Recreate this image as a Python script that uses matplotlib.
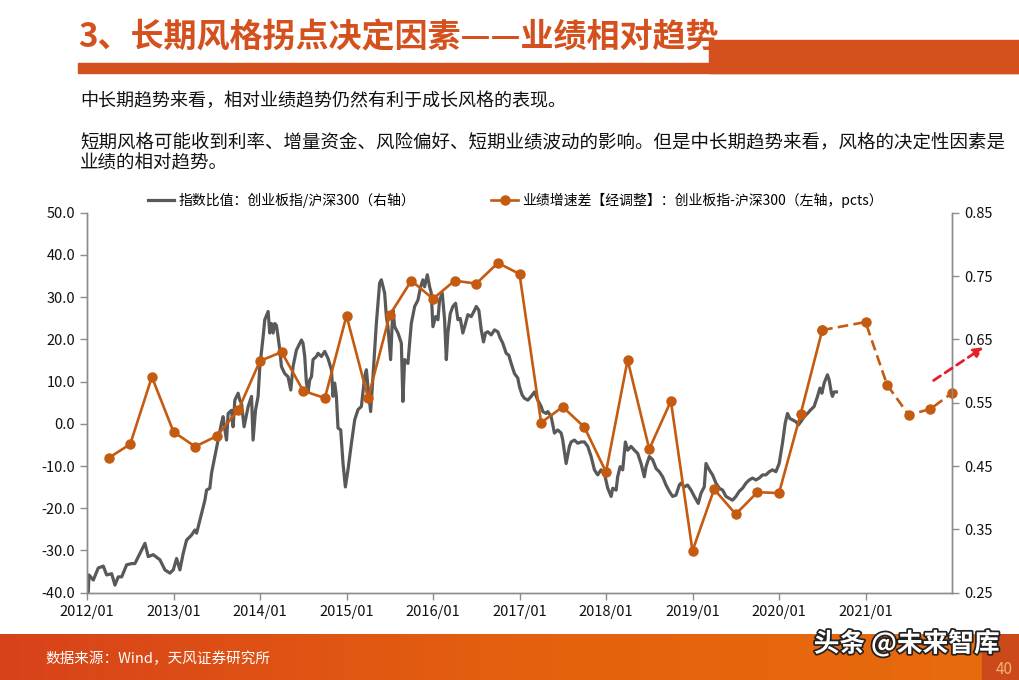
import numpy as np
import matplotlib
matplotlib.use("Agg")
import matplotlib.pyplot as plt
from matplotlib.patches import Rectangle
from matplotlib.lines import Line2D
from matplotlib.colors import LinearSegmentedColormap
import matplotlib.patheffects as pe

plt.rcParams['font.family'] = ['Noto Sans CJK SC', 'DejaVu Sans']

# ----------------------------
# Data
# ----------------------------
# index ratio ChiNext / CSI300, weekly-ish samples, time in decimal years
gray_t = [2012.015, 2012.023, 2012.073, 2012.130, 2012.188, 2012.227, 2012.285, 2012.323,
          2012.361, 2012.401, 2012.458, 2012.516, 2012.554, 2012.612, 2012.670, 2012.708,
          2012.766, 2012.843, 2012.901, 2012.958, 2012.997, 2013.036, 2013.074, 2013.112,
          2013.151, 2013.209, 2013.247, 2013.267, 2013.324, 2013.363, 2013.382, 2013.420,
          2013.440, 2013.478, 2013.516, 2013.555, 2013.574, 2013.594, 2013.613, 2013.632,
          2013.671, 2013.689, 2013.709, 2013.747, 2013.767, 2013.786, 2013.816, 2013.863,
          2013.902, 2013.920, 2013.948, 2013.978, 2013.998, 2014.036,
          2014.055, 2014.094, 2014.113, 2014.133, 2014.151, 2014.171, 2014.190, 2014.209,
          2014.229, 2014.248, 2014.286, 2014.324, 2014.356, 2014.382, 2014.421, 2014.460,
          2014.479, 2014.497, 2014.517, 2014.537, 2014.555, 2014.575, 2014.595, 2014.613,
          2014.652, 2014.671, 2014.710, 2014.748, 2014.786, 2014.826, 2014.844, 2014.864,
          2014.883, 2014.902, 2014.933, 2014.960, 2014.987, 2015.017, 2015.057, 2015.095,
          2015.133, 2015.172, 2015.210, 2015.230, 2015.248, 2015.279, 2015.306, 2015.345,
          2015.383, 2015.403, 2015.441, 2015.461, 2015.479, 2015.510, 2015.525, 2015.537,
          2015.557, 2015.595, 2015.634, 2015.652, 2015.672, 2015.710, 2015.749, 2015.788,
          2015.826, 2015.857, 2015.883, 2015.903, 2015.934,
          2015.961, 2015.980, 2015.999, 2016.030, 2016.057, 2016.076, 2016.107, 2016.134,
          2016.154, 2016.172, 2016.200, 2016.230, 2016.261, 2016.288, 2016.315, 2016.345,
          2016.376, 2016.403, 2016.442, 2016.480, 2016.500, 2016.530, 2016.558, 2016.584,
          2016.607, 2016.634, 2016.673, 2016.711, 2016.749, 2016.777, 2016.807, 2016.846,
          2016.876, 2016.904, 2016.942, 2016.980, 2017.000, 2017.031, 2017.058, 2017.096,
          2017.135, 2017.173, 2017.211, 2017.251, 2017.269, 2017.308, 2017.327, 2017.366,
          2017.404, 2017.442, 2017.482, 2017.500, 2017.539, 2017.577, 2017.597, 2017.635,
          2017.673, 2017.712, 2017.751, 2017.789, 2017.828, 2017.866, 2017.904, 2017.943,
          2017.982,
          2018.020, 2018.059, 2018.078, 2018.117, 2018.135, 2018.163, 2018.193, 2018.224,
          2018.251, 2018.290, 2018.328, 2018.366, 2018.405, 2018.443, 2018.463, 2018.501,
          2018.539, 2018.579, 2018.617, 2018.655, 2018.694, 2018.732, 2018.770, 2018.809,
          2018.848, 2018.867, 2018.905, 2018.943, 2018.983, 2019.021, 2019.067, 2019.098,
          2019.136, 2019.156, 2019.194, 2019.232, 2019.271, 2019.309, 2019.348, 2019.387,
          2019.425, 2019.463, 2019.502, 2019.540, 2019.579, 2019.618, 2019.656, 2019.694,
          2019.733, 2019.771, 2019.810, 2019.849, 2019.887, 2019.925, 2019.964, 2020.002,
          2020.040, 2020.072, 2020.098, 2020.126, 2020.156, 2020.195, 2020.225, 2020.253,
          2020.291, 2020.329, 2020.368, 2020.406, 2020.445, 2020.473, 2020.496, 2020.522,
          2020.560, 2020.580, 2020.606, 2020.618, 2020.637, 2020.664]
gray_v = [0.252, 0.278, 0.270, 0.289, 0.292, 0.278, 0.280, 0.262,
          0.275, 0.275, 0.294, 0.296, 0.296, 0.312, 0.328, 0.307,
          0.310, 0.302, 0.286, 0.281, 0.286, 0.304, 0.286, 0.312,
          0.333, 0.341, 0.349, 0.344, 0.375, 0.396, 0.412, 0.415,
          0.439, 0.465, 0.491, 0.518, 0.528, 0.507, 0.491, 0.533,
          0.538, 0.512, 0.554, 0.565, 0.554, 0.549, 0.512, 0.544,
          0.560, 0.491, 0.538, 0.560, 0.607, 0.654,
          0.681, 0.694, 0.660, 0.675, 0.660, 0.675, 0.672, 0.654,
          0.633, 0.607, 0.596, 0.591, 0.570, 0.607, 0.633, 0.644,
          0.649, 0.644, 0.623, 0.581, 0.567, 0.586, 0.591, 0.618,
          0.623, 0.628, 0.623, 0.631, 0.620, 0.602, 0.560, 0.581,
          0.560, 0.510, 0.507, 0.454, 0.417, 0.444, 0.486, 0.523,
          0.539, 0.544, 0.591, 0.602, 0.575, 0.536, 0.591, 0.675,
          0.739, 0.744, 0.723, 0.686, 0.670, 0.618, 0.665, 0.696,
          0.670, 0.660, 0.644, 0.552, 0.618, 0.612, 0.675, 0.702,
          0.712, 0.733, 0.744, 0.733, 0.752,
          0.733, 0.723, 0.670, 0.686, 0.681, 0.712, 0.723, 0.681,
          0.618, 0.660, 0.691, 0.702, 0.707, 0.681, 0.683, 0.660,
          0.675, 0.689, 0.686, 0.696, 0.702, 0.696, 0.665, 0.646,
          0.660, 0.662, 0.657, 0.665, 0.662, 0.652, 0.644, 0.628,
          0.625, 0.612, 0.596, 0.589, 0.575, 0.562, 0.557, 0.554,
          0.560, 0.567, 0.554, 0.544, 0.536, 0.533, 0.536, 0.528,
          0.502, 0.507, 0.502, 0.491, 0.454, 0.481, 0.488, 0.491,
          0.486, 0.488, 0.488, 0.481, 0.465, 0.444, 0.436, 0.444,
          0.438,
          0.415, 0.402, 0.415, 0.412, 0.433, 0.449, 0.444, 0.488,
          0.475, 0.481, 0.475, 0.470, 0.454, 0.433, 0.449, 0.465,
          0.460, 0.446, 0.441, 0.433, 0.420, 0.410, 0.402, 0.404,
          0.420, 0.423, 0.417, 0.420, 0.412, 0.402, 0.391, 0.407,
          0.417, 0.454, 0.444, 0.436, 0.423, 0.415, 0.412, 0.402,
          0.399, 0.396, 0.402, 0.410, 0.415, 0.423, 0.428, 0.431,
          0.428, 0.431, 0.436, 0.436, 0.441, 0.444, 0.441, 0.454,
          0.486, 0.518, 0.533, 0.525, 0.523, 0.520, 0.515, 0.520,
          0.528, 0.533, 0.539, 0.544, 0.560, 0.573, 0.565, 0.581,
          0.594, 0.586, 0.565, 0.560, 0.567, 0.567]

# earnings growth gap (pcts), quarter ends
orange_months = ['2012-03', '2012-06', '2012-09', '2012-12',
                 '2013-03', '2013-06', '2013-09', '2013-12',
                 '2014-03', '2014-06', '2014-09', '2014-12',
                 '2015-03', '2015-06', '2015-09', '2015-12',
                 '2016-03', '2016-06', '2016-09', '2016-12',
                 '2017-03', '2017-06', '2017-09', '2017-12',
                 '2018-03', '2018-06', '2018-09', '2018-12',
                 '2019-03', '2019-06', '2019-09', '2019-12',
                 '2020-03', '2020-06']
orange_v = [-8.1, -4.8, 11.1, -1.9,
            -5.4, -2.9, 3.3, 14.9,
            17.0, 7.8, 6.1, 25.6,
            6.1, 25.8, 33.9, 29.6,
            33.9, 33.2, 38.1, 35.5,
            0.3, 4.0, -0.8, -11.4,
            15.1, -6.0, 5.4, -30.1,
            -15.5, -21.4, -16.2, -16.4,
            2.3, 22.2]

# forecast part (dashed)
fcst_months = ['2020-06', '2020-12', '2021-03', '2021-06', '2021-09', '2021-12']
fcst_v = [22.2, 24.1, 9.2, 2.1, 3.5, 7.3]

# red trend arrow (decimal year, left axis)
arrow_start = (2021.76, 9.9)
arrow_end = (2022.39, 18.5)

year_ticks = list(range(2012, 2022))
year_labels = [f"{y}/01" for y in year_ticks]
left_ticks = np.arange(-40, 51, 10)
right_ticks = [0.25, 0.35, 0.45, 0.55, 0.65, 0.75, 0.85]


def to_year(months):
    out = []
    for m in months:
        y, mm = m.split('-')
        out.append(int(y) + int(mm) / 12)
    return out


ORANGE = '#C55A11'
GRAY = '#595959'
TITLE_C = '#D4511E'
AXIS_C = '#8C8C8C'

fig = plt.figure(figsize=(10.2, 6.8), dpi=100)

# ----------------------------
# Header
# ----------------------------
fig.text(78 / 1020, 1 - 38 / 680, "3、长期风格拐点决定因素——业绩相对趋势",
         fontsize=23.8, fontweight='bold', color=TITLE_C, va='center', ha='left',
         zorder=1)
fig.patches.append(Rectangle((78 / 1020, 1 - 73 / 680), 1, 10 / 680,
                             transform=fig.transFigure, color=TITLE_C, zorder=2))
fig.patches.append(Rectangle((709 / 1020, 1 - 73 / 680), 1, 33 / 680,
                             transform=fig.transFigure, color=TITLE_C, zorder=2))

fig.text(80 / 1020, 1 - 101 / 680, "中长期趋势来看，相对业绩趋势仍然有利于成长风格的表现。",
         fontsize=13, color='#111111', va='center')
fig.text(80 / 1020, 1 - 142 / 680,
         "短期风格可能收到利率、增量资金、风险偏好、短期业绩波动的影响。但是中长期趋势来看，风格的决定性因素是",
         fontsize=13.3, color='#111111', va='center')
fig.text(80 / 1020, 1 - 163 / 680, "业绩的相对趋势。",
         fontsize=13.3, color='#111111', va='center')

# ----------------------------
# Chart
# ----------------------------
ax = fig.add_axes([87 / 1020, 1 - 592.7 / 680, 865 / 1020, 380 / 680])
ax2 = ax.twinx()
ax.set_zorder(ax2.get_zorder() + 1)
ax.patch.set_visible(False)

ax2.plot(gray_t, gray_v, color=GRAY, lw=2.3, solid_joinstyle='round')

ox = to_year(orange_months)
fx = to_year(fcst_months)
ax.plot(ox, orange_v, color=ORANGE, lw=1.9, marker='o', ms=6.5)
ax.plot(fx, fcst_v, color=ORANGE, lw=1.9, marker='o', ms=6.5,
        linestyle=(0, (4, 2)), clip_on=False)

ax.annotate('', xy=arrow_end, xytext=arrow_start, annotation_clip=False,
            arrowprops=dict(arrowstyle='-|>', color='#E3202A', lw=2,
                            linestyle=(0, (3, 2)), mutation_scale=14))

ax.set_xlim(2012, 2022)
ax.set_ylim(-40, 50)
ax2.set_ylim(0.25, 0.85)
ax.set_xticks(year_ticks)
ax.set_xticklabels(year_labels)
ax.set_yticks(left_ticks)
ax.set_yticklabels([f"{v:.1f}" for v in left_ticks])
ax2.set_yticks(right_ticks)
ax2.set_yticklabels([f"{v:.2f}" for v in right_ticks])

for a in (ax, ax2):
    a.spines['top'].set_visible(False)
    for s in ('left', 'right', 'bottom'):
        a.spines[s].set_color(AXIS_C)
        a.spines[s].set_linewidth(1)
    a.tick_params(colors=AXIS_C, labelcolor='#111111', labelsize=10.5,
                  length=5, width=1, direction='out')
ax.tick_params(axis='x', pad=4)

# legend
handles = [Line2D([], [], color=GRAY, lw=2.3),
           Line2D([], [], color=ORANGE, lw=1.9, marker='o', ms=6.5)]
labels = ["指数比值：创业板指/沪深300（右轴）",
          "业绩增速差【经调整】：创业板指-沪深300（左轴，pcts）"]
fig.legend(handles, labels, loc='center', bbox_to_anchor=(0.505, 1 - 200 / 680),
           ncol=2, frameon=False, fontsize=10, handlelength=1.9, handletextpad=0.3,
           columnspacing=5.5)

# ----------------------------
# Footer
# ----------------------------
fax = fig.add_axes([0, 0, 1, 46 / 680])
grad = np.linspace(0, 1, 256).reshape(1, -1)
cmap = LinearSegmentedColormap.from_list('band', ['#D8421A', '#E4600F', '#E86C0C'])
fax.imshow(grad, aspect='auto', cmap=cmap, extent=(0, 1, 0, 1))
fax.add_patch(Rectangle((982 / 1020, 0), 38 / 1020, 1, color='#CC4A1A'))
fax.set_xlim(0, 1)
fax.set_ylim(0, 1)
fax.axis('off')
fig.text(45 / 1020, 1 - 659 / 680, "数据来源：Wind，天风证券研究所",
         fontsize=10.5, color='white', va='center')
fig.text(1000 / 1020, 1 - 644 / 680, "头条 @未来智库", fontsize=18.5, color='white',
         va='center', ha='right', fontweight='bold',
         path_effects=[pe.withStroke(linewidth=2.5, foreground='#222222')])
fig.text(1004 / 1020, 1 - 669 / 680, "40", fontsize=11, color='#F3B27A',
         va='center', ha='center')

fig.savefig('out.png', dpi=100)
